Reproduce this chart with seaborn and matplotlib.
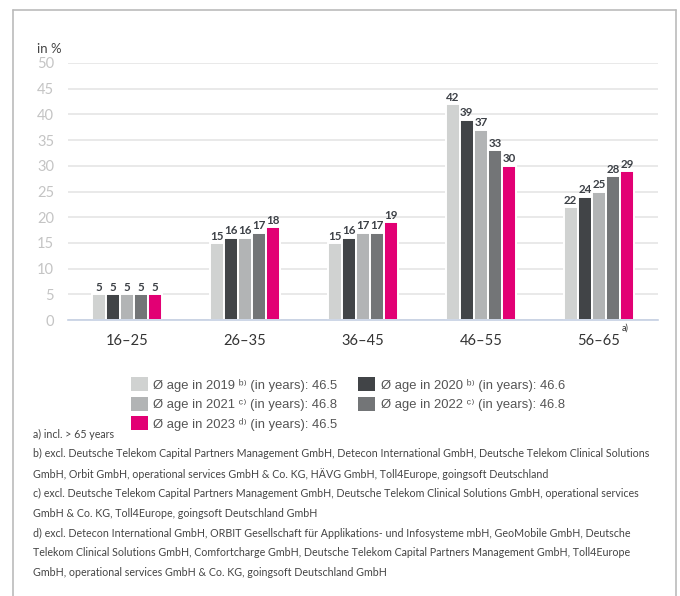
import matplotlib
matplotlib.use("Agg")
import matplotlib.pyplot as plt
import seaborn as sns
import pandas as pd
from matplotlib.patches import Patch
from matplotlib.lines import Line2D

categories = ["16–25", "26–35", "36–45", "46–55", "56–65"]
years = ["2019", "2020", "2021", "2022", "2023"]
v2019 = [5, 15, 15, 42, 22]
v2020 = [5, 16, 16, 39, 24]
v2021 = [5, 16, 17, 37, 25]
v2022 = [5, 17, 17, 33, 28]
v2023 = [5, 18, 19, 30, 29]
legend_labels = [
    "Ø age in 2019 ᵇ⁾ (in years): 46.5",
    "Ø age in 2020 ᵇ⁾ (in years): 46.6",
    "Ø age in 2021 ᶜ⁾ (in years): 46.8",
    "Ø age in 2022 ᶜ⁾ (in years): 46.8",
    "Ø age in 2023 ᵈ⁾ (in years): 46.5",
]
colors = ["#d0d2d1", "#414447", "#b2b4b5", "#737577", "#e20074"]
footnotes = [
    "a) incl. > 65 years",
    "b) excl. Deutsche Telekom Capital Partners Management GmbH, Detecon International GmbH, Deutsche Telekom Clinical Solutions",
    "GmbH, Orbit GmbH, operational services GmbH & Co. KG, HÄVG GmbH, Toll4Europe, goingsoft Deutschland",
    "c) excl. Deutsche Telekom Capital Partners Management GmbH, Deutsche Telekom Clinical Solutions GmbH, operational services",
    "GmbH & Co. KG, Toll4Europe, goingsoft Deutschland GmbH",
    "d) excl. Detecon International GmbH, ORBIT Gesellschaft für Applikations- und Infosysteme mbH, GeoMobile GmbH, Deutsche",
    "Telekom Clinical Solutions GmbH, Comfortcharge GmbH, Deutsche Telekom Capital Partners Management GmbH, Toll4Europe",
    "GmbH, operational services GmbH & Co. KG, goingsoft Deutschland GmbH",
]

series = [v2019, v2020, v2021, v2022, v2023]
rows = []
for y, vals in zip(years, series):
    for c, v in zip(categories, vals):
        rows.append({"age": c, "year": y, "value": v})
df = pd.DataFrame(rows)

sns.set_style("white")
plt.rcParams["font.family"] = ["Lato", "DejaVu Sans"]

W, H = 680, 596
fig = plt.figure(figsize=(W / 100, H / 100), dpi=100)
ax = fig.add_axes([68 / W, 1 - 320 / H, (658 - 68) / W, (320 - 63) / H])

sns.barplot(data=df, x="age", y="value", hue="year", palette=colors,
            width=0.6, edgecolor="white", linewidth=1.4, ax=ax, legend=False,
            saturation=1)

for cont in ax.containers:
    ax.bar_label(cont, fmt="%d", padding=1, fontsize=8.3, color="#3c4046",
                 fontweight="bold")

ax.set_ylim(0, 50)
ax.set_xlim(-0.5, 4.5)
ax.set_yticks(range(0, 51, 5))
ax.yaxis.grid(True, color="#e5e5e5", linewidth=1.2)
ax.set_axisbelow(True)
ax.tick_params(axis="y", length=0, labelsize=10.5, labelcolor="#c4c4c4", pad=10)
ax.tick_params(axis="x", which="major", length=0, labelsize=10.5,
               labelcolor="#333333", pad=10)
ax.set_xticks([i - 0.5 for i in range(6)], minor=True)
ax.tick_params(axis="x", which="minor", length=8, color="#c5d0e3", width=1)
ax.set_xlabel("")
ax.set_ylabel("")
for s in ["left", "right", "top"]:
    ax.spines[s].set_visible(False)
ax.spines["bottom"].set_color("#c5d0e3")
ax.spines["bottom"].set_linewidth(1.2)

fig.text(37 / W, 1 - 49 / H, "in %", fontsize=9.5, color="#444444", va="center")
fig.text(622 / W, 1 - 328 / H, "a)", fontsize=6.5, color="#333333", va="center")

handles = [Patch(facecolor=c, edgecolor="none") for c in colors]
order = [0, 2, 4, 1, 3]
fig.legend([handles[i] for i in order], [legend_labels[i] for i in order],
           ncol=2, loc="upper left", bbox_to_anchor=(126 / W, 1 - 372 / H),
           frameon=False, labelcolor="#555555",
           prop={"family": ["Liberation Sans", "DejaVu Sans"], "size": 9.4},
           handlelength=1.25, handleheight=1.25, handletextpad=0.45,
           columnspacing=1.6, labelspacing=0.4, borderaxespad=0)

for i, line in enumerate(footnotes):
    fig.text(33 / W, 1 - (434 + i * 19.8) / H, line, fontsize=7.7,
             color="#444444", va="center")

# frame lines
fig.add_artist(Line2D([13 / W, 13 / W], [0, 1 - 10 / H], transform=fig.transFigure,
                      color="#bbbbbb", linewidth=1.2))
fig.add_artist(Line2D([676 / W, 676 / W], [0, 1 - 10 / H], transform=fig.transFigure,
                      color="#bbbbbb", linewidth=1.2))
fig.add_artist(Line2D([13 / W, 676 / W], [1 - 10 / H, 1 - 10 / H], transform=fig.transFigure,
                      color="#bbbbbb", linewidth=1.2))

fig.savefig("out.png", dpi=100)
